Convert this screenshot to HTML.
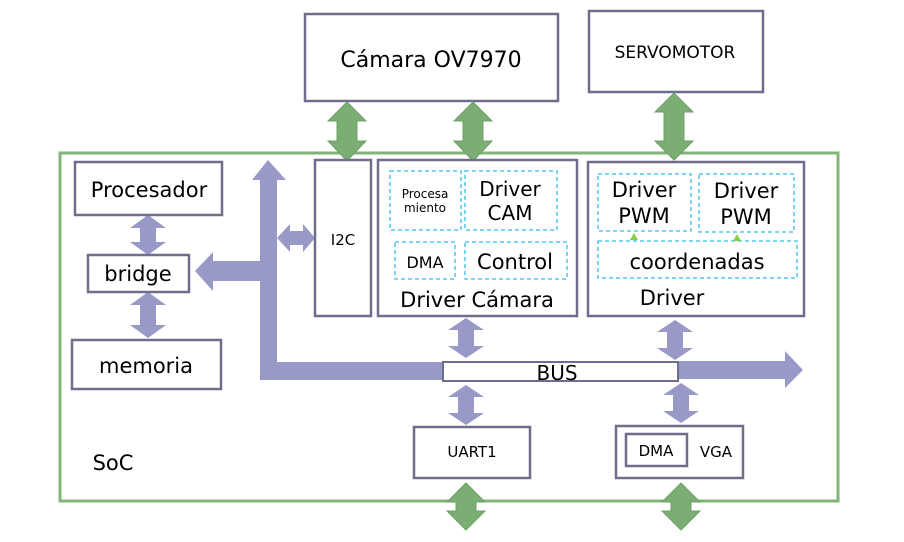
<!DOCTYPE html>
<html><head><meta charset="utf-8"><style>
html,body{margin:0;padding:0;background:#fff;}
svg text{font-family:"DejaVu Sans","Liberation Sans",sans-serif;fill:#000;}
</style></head><body>
<svg width="904" height="537" viewBox="0 0 904 537" xmlns="http://www.w3.org/2000/svg">
<!-- SoC -->
<rect x="60" y="153" width="778" height="348" fill="none" stroke="#82b47a" stroke-width="3"/>
<!-- Top boxes -->
<rect x="305" y="14" width="253" height="87" fill="#fff" stroke="#6e6e8c" stroke-width="2.5"/>
<text x="431" y="67" font-size="22" text-anchor="middle">Cámara OV7970</text>
<rect x="589" y="11" width="174" height="81" fill="#fff" stroke="#6e6e8c" stroke-width="2.5"/>
<text x="675" y="58" font-size="17" text-anchor="middle">SERVOMOTOR</text>

<!-- green arrows -->
<g fill="#7aae72" stroke="#6f9f68" stroke-width="1">
<path d="M347,102 L366,121 L357,121 L357,141 L366,141 L347,161 L328,141 L337,141 L337,121 L328,121 Z"/>
<path d="M473,102 L492,121 L483,121 L483,141 L492,141 L473,161 L454,141 L463,141 L463,121 L454,121 Z"/>
<path d="M674,93 L693,112 L684,112 L684,141 L693,141 L674,160 L655,141 L664,141 L664,112 L655,112 Z"/>
<path d="M466,483 L485,502 L476,502 L476,511 L485,511 L466,530 L447,511 L456,511 L456,502 L447,502 Z"/>
<path d="M681,483 L700,502 L691,502 L691,511 L700,511 L681,530 L662,511 L671,511 L671,502 L662,502 Z"/>
</g>

<!-- purple bus structure -->
<g fill="#9999c8">
<path d="M260,380 L260,180 L252,180 L268,160 L286,180 L277,180 L277,362 L445,362 L445,380 Z"/>
<path d="M260,261 L260,281 L213,281 L213,291 L195,271 L213,252 L213,261 Z"/>
<path d="M675,361 L785,361 L785,351 L803,370 L785,388 L785,379 L675,379 Z"/>
<path d="M277,238 L290,224 L290,231 L303,231 L303,224 L315,238 L303,252 L303,245 L290,245 L290,252 Z"/>
<path d="M148,215 L166,228 L156,228 L156,242 L166,242 L148,255 L130,242 L140,242 L140,228 L130,228 Z"/>
<path d="M148,292 L166,305 L156,305 L156,325 L166,325 L148,338 L130,325 L140,325 L140,305 L130,305 Z"/>
<path d="M466,318 L484,330 L474,330 L474,346 L484,346 L466,358 L448,346 L458,346 L458,330 L448,330 Z"/>
<path d="M675,320 L693,332 L683,332 L683,348 L693,348 L675,360 L657,348 L667,348 L667,332 L657,332 Z"/>
<path d="M466,385 L484,397 L474,397 L474,413 L484,413 L466,425 L448,413 L458,413 L458,397 L448,397 Z"/>
<path d="M681,383 L699,395 L689,395 L689,411 L699,411 L681,423 L663,411 L673,411 L673,395 L663,395 Z"/>
</g>

<!-- BUS box -->
<rect x="443" y="362" width="235" height="19" fill="#fff" stroke="#6e6e8c" stroke-width="2"/>
<text x="557" y="380" font-size="20" text-anchor="middle">BUS</text>

<!-- left boxes -->
<rect x="75" y="162" width="147" height="53" fill="#fff" stroke="#6e6e8c" stroke-width="2.5"/>
<text x="149" y="197" font-size="21" text-anchor="middle">Procesador</text>
<rect x="88" y="255" width="101" height="37" fill="#fff" stroke="#6e6e8c" stroke-width="2.5"/>
<text x="138" y="281" font-size="21" text-anchor="middle">bridge</text>
<rect x="72" y="340" width="149" height="49" fill="#fff" stroke="#6e6e8c" stroke-width="2.5"/>
<text x="146" y="373" font-size="21" text-anchor="middle">memoria</text>

<!-- I2C -->
<rect x="315" y="160" width="56" height="156" fill="#fff" stroke="#6e6e8c" stroke-width="2.5"/>
<text x="343" y="245" font-size="15" text-anchor="middle">I2C</text>

<!-- Driver Camara -->
<rect x="378" y="160" width="199" height="156" fill="#fff" stroke="#6e6e8c" stroke-width="2.5"/>
<g fill="none" stroke="#33bbee" stroke-width="1.3" stroke-dasharray="4,3">
<rect x="390" y="171" width="71" height="59"/>
<rect x="465" y="171" width="92" height="59"/>
<rect x="395" y="242" width="60" height="37"/>
<rect x="465" y="242" width="102" height="37"/>
</g>
<text x="425" y="198" font-size="12" text-anchor="middle">Procesa</text>
<text x="425" y="212" font-size="12" text-anchor="middle">miento</text>
<text x="510" y="196" font-size="20" text-anchor="middle">Driver</text>
<text x="510" y="220" font-size="20" text-anchor="middle">CAM</text>
<text x="425" y="268" font-size="16" text-anchor="middle">DMA</text>
<text x="515" y="269" font-size="21" text-anchor="middle">Control</text>
<text x="477" y="307" font-size="21" text-anchor="middle">Driver Cámara</text>

<!-- Driver -->
<rect x="588" y="162" width="216" height="154" fill="#fff" stroke="#6e6e8c" stroke-width="2.5"/>
<g fill="none" stroke="#33bbee" stroke-width="1.3" stroke-dasharray="4,3">
<rect x="598" y="174" width="93" height="57"/>
<rect x="699" y="174" width="95" height="58"/>
<rect x="598" y="241" width="199" height="37"/>
</g>
<g fill="#88cc44"><path d="M634,233 L638,240 L630,240 Z"/><path d="M737,234 L741,241 L733,241 Z"/></g>
<text x="644" y="197" font-size="21" text-anchor="middle">Driver</text>
<text x="644" y="223" font-size="21" text-anchor="middle">PWM</text>
<text x="746" y="198" font-size="21" text-anchor="middle">Driver</text>
<text x="746" y="224" font-size="21" text-anchor="middle">PWM</text>
<text x="697" y="269" font-size="21" text-anchor="middle">coordenadas</text>
<text x="672" y="305" font-size="21" text-anchor="middle">Driver</text>

<!-- UART1 / VGA -->
<rect x="414" y="427" width="116" height="51" fill="#fff" stroke="#6e6e8c" stroke-width="2.5"/>
<text x="472" y="457" font-size="15" text-anchor="middle">UART1</text>
<rect x="616" y="426" width="127" height="52" fill="#fff" stroke="#6e6e8c" stroke-width="2.5"/>
<rect x="626" y="434" width="61" height="32" fill="#fff" stroke="#6e6e8c" stroke-width="2.5"/>
<text x="656" y="456" font-size="15" text-anchor="middle">DMA</text>
<text x="716" y="457" font-size="15" text-anchor="middle">VGA</text>

<text x="113" y="470" font-size="21" text-anchor="middle">SoC</text>
</svg>
</body></html>
